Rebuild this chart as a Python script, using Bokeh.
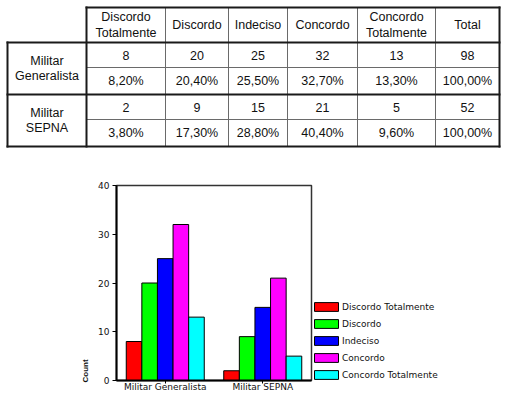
from bokeh.plotting import figure
from bokeh.models import (ColumnDataSource, Range1d, FactorRange, Legend, LegendItem,
                          FixedTicker, Title)
from bokeh.transform import dodge
from bokeh.core.properties import value
from bokeh.embed import file_html
from bokeh.resources import INLINE

# ---------------- data ----------------
groups = ["Militar Generalista", "Militar SEPNA"]
series = ["Discordo Totalmente", "Discordo", "Indeciso", "Concordo", "Concordo Totalmente"]
gen_counts = [8, 20, 25, 32, 13]
gen_total = 98
sepna_counts = [2, 9, 15, 21, 5]
sepna_total = 52
gen_pct = [8.2, 20.4, 25.5, 32.7, 13.3, 100.0]
sepna_pct = [3.8, 17.3, 28.8, 40.4, 9.6, 100.0]
y_ticks = [0, 10, 20, 30, 40]
colors = ["#FF0000", "#00FF00", "#0000FF", "#FF00FF", "#00FFFF"]
y_label = "Count"

# ---------------- table figure ----------------
TW, TH = 505, 148
col_edges = [7, 86, 165, 228, 287, 357, 435, 499]
row_edges = [7, 42, 67, 94, 119, 146]

t = figure(width=TW, height=TH, x_range=Range1d(0, TW), y_range=Range1d(TH, 0),
           x_axis_type=None, y_axis_type=None, toolbar_location=None,
           output_backend="svg", min_border=0, outline_line_color=None)

L, R = col_edges[0], col_edges[-1]
T, B = row_edges[0], row_edges[-1]
d0 = col_edges[1]
thin = dict(x0=[], y0=[], x1=[], y1=[])
for xe in col_edges[2:-1]:
    thin["x0"].append(xe); thin["y0"].append(T); thin["x1"].append(xe); thin["y1"].append(B)
for ye in (row_edges[2], row_edges[4]):
    thin["x0"].append(d0); thin["y0"].append(ye); thin["x1"].append(R); thin["y1"].append(ye)
t.segment(source=ColumnDataSource(thin), x0="x0", y0="y0", x1="x1", y1="y1",
          line_color="#6a6a6a", line_width=1)
thick = dict(x0=[], y0=[], x1=[], y1=[])
def seg(a, b, c, d):
    thick["x0"].append(a); thick["y0"].append(b); thick["x1"].append(c); thick["y1"].append(d)
seg(d0, T, R, T)
seg(L, row_edges[1], R, row_edges[1])
seg(L, row_edges[3], R, row_edges[3])
seg(L, B, R, B)
seg(L, row_edges[1], L, B)
seg(d0, T, d0, B)
seg(R, T, R, B)
t.segment(source=ColumnDataSource(thick), x0="x0", y0="y0", x1="x1", y1="y1",
          line_color="#1a1a1a", line_width=2, line_cap="square")

centers = [(col_edges[i] + col_edges[i + 1]) / 2 for i in range(len(col_edges) - 1)]
headers = [s.replace(" ", "\n") for s in series] + ["Total"]

def fmt_pct(v):
    return ("%.2f" % v).replace(".", ",") + "%"

tx, ty, tt = [], [], []
for i, h in enumerate(headers):
    tx.append(centers[i + 1]); ty.append((row_edges[0] + row_edges[1]) / 2); tt.append(h)
for gi, (cnts, tot, pct) in enumerate([(gen_counts, gen_total, gen_pct),
                                       (sepna_counts, sepna_total, sepna_pct)]):
    r0 = row_edges[1 + 2 * gi]
    r1 = row_edges[2 + 2 * gi]
    r2 = row_edges[3 + 2 * gi]
    tx.append(centers[0]); ty.append((r0 + r2) / 2); tt.append(groups[gi].replace(" ", "\n"))
    for i, v in enumerate(cnts + [tot]):
        tx.append(centers[i + 1]); ty.append((r0 + r1) / 2); tt.append(str(v))
    for i, v in enumerate(pct):
        tx.append(centers[i + 1]); ty.append((r1 + r2) / 2); tt.append(fmt_pct(v))

t.text(source=ColumnDataSource(dict(x=tx, y=ty, text=tt)), x="x", y="y", text="text",
       text_align="center", text_baseline="middle", text_font=value("Liberation Sans"),
       text_font_size="12.5px", text_color="#111111", text_line_height=1.1)

# ---------------- chart figure ----------------
p = figure(frame_width=195, frame_height=195,
           x_range=FactorRange(factors=groups), y_range=Range1d(0, 40),
           toolbar_location=None, output_backend="svg",
           min_border_left=116, min_border_right=194, min_border_top=37, min_border_bottom=15)

src = ColumnDataSource(dict(group=groups,
                            **{"s%d" % i: [gen_counts[i], sepna_counts[i]] for i in range(5)}))
bw = 0.16
items = []
for i in range(5):
    r = p.vbar(x=dodge("group", (i - 2) * bw, range=p.x_range), top="s%d" % i, width=bw,
               source=src, fill_color=colors[i], line_color="black", line_width=1)
    items.append(LegendItem(label=series[i], renderers=[r]))

p.xgrid.visible = False
p.ygrid.visible = False
p.outline_line_color = "#333333"
p.outline_line_width = 1.5

ya = p.yaxis[0]
ya.ticker = FixedTicker(ticks=y_ticks)
ya.minor_tick_line_color = None
ya.major_tick_out = 4
ya.major_tick_in = 0
ya.major_label_standoff = 3
ya.axis_line_width = 2
ya.axis_line_color = "black"
ya.major_tick_line_color = "black"
ya.major_label_text_font = "DejaVu Sans"
ya.major_label_text_font_size = "9px"
ya.major_label_text_color = "#111111"

# y-axis title, placed near the bottom of the axis as in the reference
p.add_layout(Title(text=y_label, align="left", offset=-2, standoff=12,
                   text_font="Liberation Sans", text_font_size="8px",
                   text_font_style="bold", text_color="#111111"), "left")

xa = p.xaxis[0]
xa.major_tick_out = 3
xa.major_tick_in = 0
xa.major_label_standoff = -2
xa.axis_line_width = 2
xa.axis_line_color = "black"
xa.major_tick_line_color = "black"
xa.major_label_text_font = "DejaVu Sans"
xa.major_label_text_font_size = "9px"
xa.major_label_text_color = "#111111"

legend = Legend(items=items, location="bottom_left", padding=2, margin=0, spacing=6,
                glyph_width=30, glyph_height=11, label_height=11, label_standoff=1,
                label_text_font="DejaVu Sans", label_text_font_size="9px",
                label_text_color="#111111",
                border_line_color=None, background_fill_alpha=0)
p.add_layout(legend, "right")

open("out.html", "w").write(file_html([t, p], INLINE))
